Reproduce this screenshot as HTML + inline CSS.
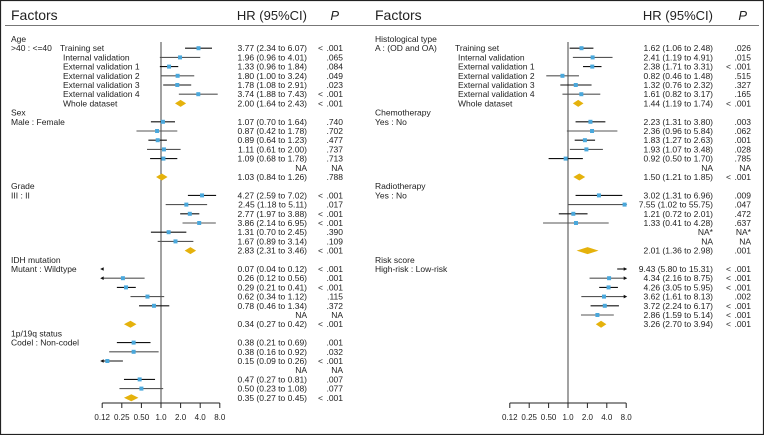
<!DOCTYPE html>
<html><head><meta charset="utf-8"><style>
html,body{margin:0;padding:0;background:#fff}
svg{display:block;font-family:"Liberation Sans",Arial,sans-serif}
</style></head><body>
<svg id="c" width="764" height="435" viewBox="0 0 764 435"></svg>
<script>
const leftGroups=["Age","Sex","Grade","IDH mutation","1p/19q status"];
const leftCompare=[">40 : <=40","Male : Female","III : II","Mutant : Wildtype","Codel : Non-codel"];
const rightGroups=["Histological type","Chemotherapy","Radiotherapy","Risk score"];
const rightCompare=["A : (OD and OA)","Yes : No","Yes : No","High-risk : Low-risk"];
const cohorts=["Training set","Internal validation","External validation 1","External validation 2","External validation 3","External validation 4","Whole dataset"];
const leftEst=[3.77,1.96,1.33,1.80,1.78,3.74,2.00, 1.07,0.87,0.89,1.11,1.09,null,1.03, 4.27,2.45,2.77,3.86,1.31,1.67,2.83, 0.07,0.26,0.29,0.62,0.78,null,0.34, 0.38,0.38,0.15,null,0.47,0.50,0.35];
const leftLo=[2.34,0.96,0.96,1.00,1.08,1.88,1.64, 0.70,0.42,0.64,0.61,0.68,null,0.84, 2.59,1.18,1.97,2.14,0.70,0.89,2.31, 0.04,0.12,0.21,0.34,0.46,null,0.27, 0.21,0.16,0.09,null,0.27,0.23,0.27];
const leftHi=[6.07,4.01,1.84,3.24,2.91,7.43,2.43, 1.64,1.78,1.23,2.00,1.78,null,1.26, 7.02,5.11,3.88,6.95,2.45,3.14,3.46, 0.12,0.56,0.41,1.12,1.34,null,0.42, 0.69,0.92,0.26,null,0.81,1.08,0.45];
const leftP=["< .001",".065",".084",".049",".023","< .001","< .001", ".740",".702",".477",".737",".713","NA",".788", "< .001",".017","< .001","< .001",".390",".109","< .001", "< .001",".001","< .001",".115",".372","NA","< .001", ".001",".032","< .001","NA",".007",".077","< .001"];
const rightEst=[1.62,2.41,2.38,0.82,1.32,1.61,1.44, 2.23,2.36,1.83,1.93,0.92,null,1.50, 3.02,7.55,1.21,1.33,null,null,2.01, 9.43,4.34,4.26,3.62,3.72,2.86,3.26];
const rightLo=[1.06,1.19,1.71,0.46,0.76,0.82,1.19, 1.31,0.96,1.27,1.07,0.50,null,1.21, 1.31,1.02,0.72,0.41,null,null,1.36, 5.80,2.16,3.05,1.61,2.24,1.59,2.70];
const rightHi=[2.48,4.91,3.31,1.48,2.32,3.17,1.74, 3.80,5.84,2.63,3.48,1.70,null,1.85, 6.96,55.75,2.01,4.28,null,null,2.98, 15.31,8.75,5.95,8.13,6.17,5.14,3.94];
const rightP=[".026",".015","< .001",".515",".327",".165","< .001", ".003",".062",".001",".028",".785","NA","< .001", ".009",".047",".472",".637","NA*","NA",".001", "< .001","< .001","< .001",".002","< .001","< .001","< .001"];
const rightNA=[null,null,null,null,null,null,null, null,null,null,null,null,"NA",null, null,null,null,null,"NA*","NA",null, null,null,null,null,null,null,null];
const tickVals=[0.125,0.25,0.5,1,2,4,8];
const tickLabels=["0.12","0.25","0.50","1.0","2.0","4.0","8.0"];

const svg=document.getElementById('c');
const NS='http://www.w3.org/2000/svg';
function mk(tag,attrs,parent,text){const e=document.createElementNS(NS,tag);for(const k in attrs)e.setAttribute(k,attrs[k]);if(text!==undefined)e.textContent=text;(parent||svg).appendChild(e);return e;}
const rowY=i=>39+i*9.2;
const fmt=v=>v.toFixed(2);

let e;
e=mk('rect',{x:0.5,y:0.5,width:763,height:434,fill:'none',stroke:'#222','stroke-width':1.2});

e=mk('line',{x1:5,x2:759,y1:25.5,y2:25.5,stroke:'#777','stroke-width':1});


function panel(cfg){
  const g=mk('g',{});
  
  const xs=v=>cfg.x1+Math.log2(Math.max(0.125,Math.min(8,v)))*cfg.k;
  let t;
  t=mk('text',{x:cfg.fx,y:20,'font-size':14,fill:'#222'},g,'Factors');
  
  t=mk('text',{x:cfg.hrX,y:20,'font-size':13,fill:'#222','text-anchor':'end'},g,'HR (95%CI)');
  
  t=mk('text',{x:cfg.pX-4,y:20,'font-size':13,'font-style':'italic',fill:'#222','text-anchor':'end'},g,'P');
  
  // ref line
  t=mk('line',{x1:xs(1),x2:xs(1),y1:42,y2:403,stroke:'#444','stroke-width':1},g);
  
  // axis
  t=mk('line',{x1:xs(0.125),x2:xs(8),y1:403,y2:403,stroke:'#222','stroke-width':1},g);
  
  tickVals.forEach((v,i)=>{
    let m=mk('line',{x1:xs(v),x2:xs(v),y1:403,y2:408,stroke:'#222'},g);
    
    m=mk('text',{x:xs(v),y:420,'font-size':8,'text-anchor':'middle',fill:'#222'},g,tickLabels[i]);
    
  });
  cfg.groups.forEach((gn,gi)=>{
    const base=gi*8;
    let m=mk('text',{x:cfg.fx,y:rowY(base)+3,'font-size':8.5,fill:'#222'},g,gn);
    
    m=mk('text',{x:cfg.fx,y:rowY(base+1)+3,'font-size':8.5,fill:'#222'},g,cfg.compare[gi]);
    
    if(gi===0){
      cohorts.forEach((c,ci)=>{
        const mm=mk('text',{x:cfg.cx+(ci?3:0),y:rowY(base+1+ci)+3,'font-size':8.5,fill:'#222'},g,c);
        
      });
    }
    for(let r=0;r<7;r++){
      const idx=gi*7+r; const y=rowY(base+1+r);
      const est=cfg.est[idx],lo=cfg.lo[idx],hi=cfg.hi[idx];
      const hrTxt=est==null?(cfg.na?cfg.na[idx]:'NA'):`${fmt(est)} (${fmt(lo)} to ${fmt(hi)})`;
      let m=mk('text',{x:cfg.hrX,y:y+3,'font-size':8.5,fill:'#222','text-anchor':'end'},g,hrTxt);
      
      const p=cfg.p[idx];
      if(p.startsWith('<')){
        m=mk('text',{x:cfg.pX-25,y:y+3,'font-size':8.5,fill:'#222'},g,'<');
        
      }
      m=mk('text',{x:cfg.pX,y:y+3,'font-size':8.5,fill:'#222','text-anchor':'end'},g,p.replace('< ',''));
      
      if(est==null) continue;
      if(r===6){
        const a=xs(lo),b=xs(hi),c=xs(est);
        m=mk('polygon',{points:`${a},${y} ${c},${y-3.5} ${b},${y} ${c},${y+3.5}`,fill:'#e5b20c'},g);
        
        continue;
      }
      const col=r%2?'#555':'#111';
      m=mk('line',{x1:xs(lo),x2:xs(hi),y1:y,y2:y,stroke:col,'stroke-width':1.1},g);
      
      if(lo<0.125){
        const ax=xs(0.125);
        m=mk('polygon',{points:`${ax-2},${y} ${ax+1.5},${y-1.8} ${ax+1.5},${y+1.8}`,fill:'#111'},g);
        
      }
      if(hi>8){
        const ax=xs(8);
        m=mk('polygon',{points:`${ax+1},${y} ${ax-2.5},${y-1.8} ${ax-2.5},${y+1.8}`,fill:'#111'},g);
        
      }
      if(est>=0.125&&est<=8){
        m=mk('rect',{x:xs(est)-2,y:y-2,width:4,height:4,fill:'#4aa8dc'},g);
        
      }
    }
  });
}
panel({name:'left-panel',x1:161,k:19.6,fx:11,cx:60,hrX:307,pX:343,groups:leftGroups,compare:leftCompare,est:leftEst,lo:leftLo,hi:leftHi,p:leftP});
panel({name:'right-panel',x1:568,k:19.4,fx:375,cx:455,hrX:713,pX:751,groups:rightGroups,compare:rightCompare,est:rightEst,lo:rightLo,hi:rightHi,p:rightP,na:rightNA});
</script>
</body></html>
